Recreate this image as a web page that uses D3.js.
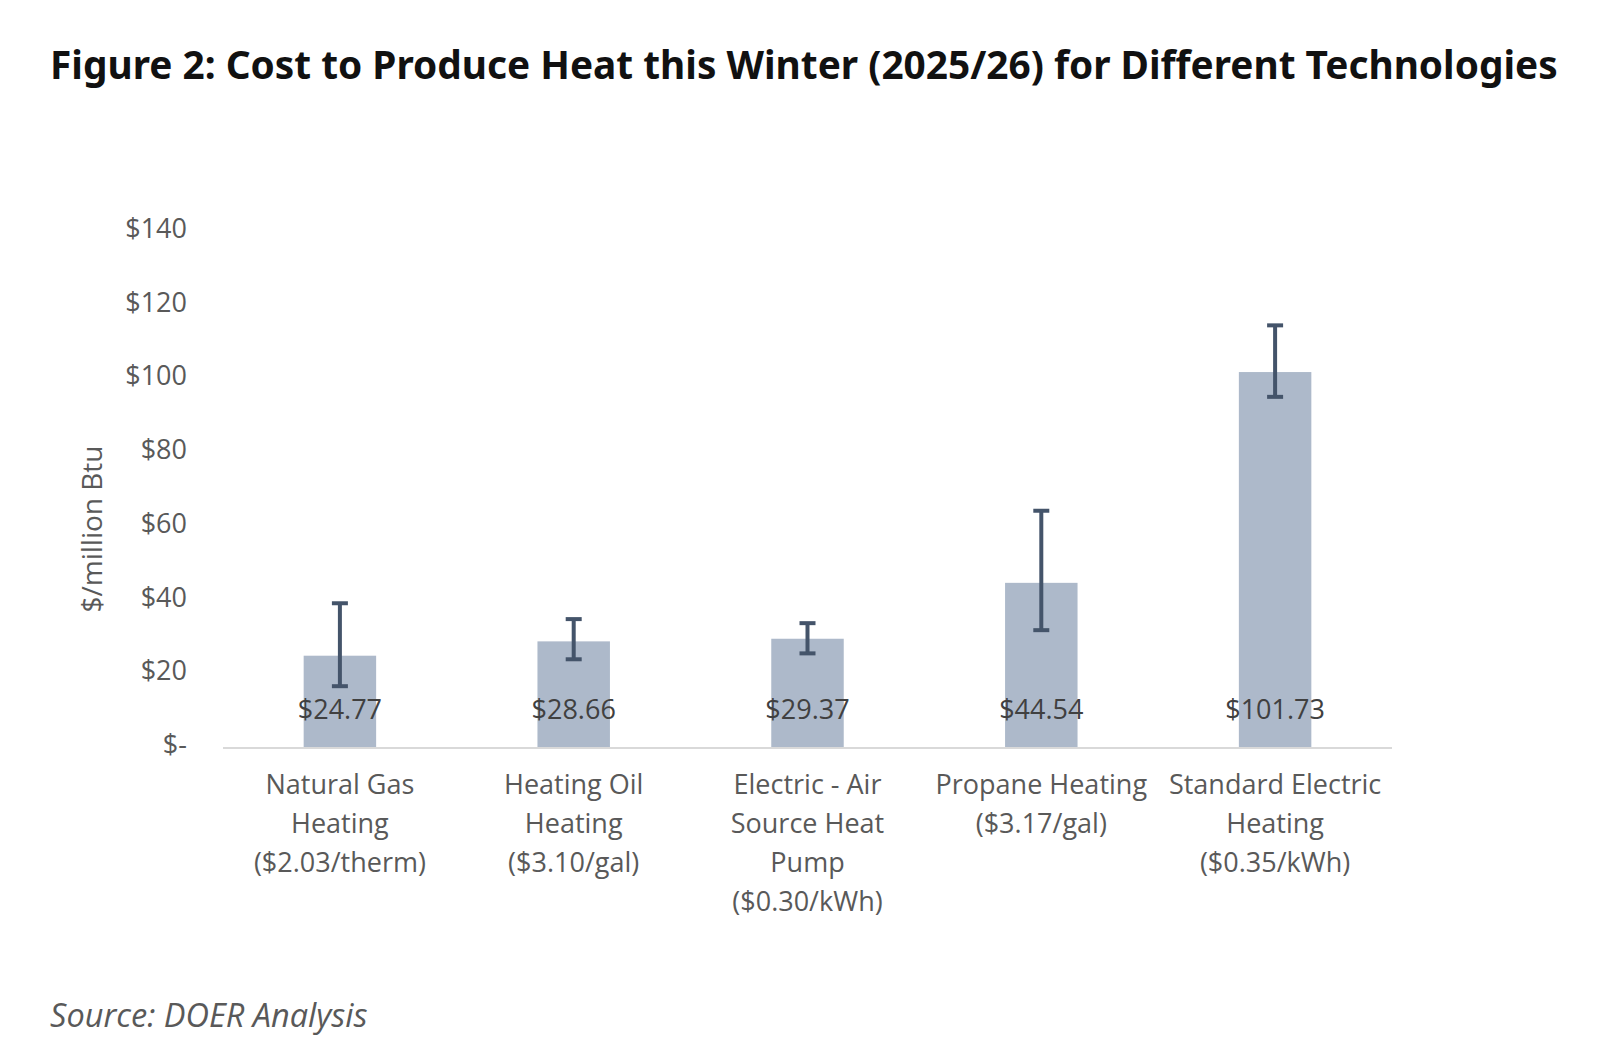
<!DOCTYPE html>
<html>
<head>
<meta charset="utf-8">
<script src="https://cdn.jsdelivr.net/npm/d3@7"></script>
<style>
  html, body { margin: 0; padding: 0; background: #fff; }
  svg { display: block; }
</style>
</head>
<body>
<div id="chart"></div>
<script>
// chart data
const categories = [
  ["Natural Gas", "Heating", "($2.03/therm)"],
  ["Heating Oil", "Heating", "($3.10/gal)"],
  ["Electric - Air", "Source Heat", "Pump", "($0.30/kWh)"],
  ["Propane Heating", "($3.17/gal)"],
  ["Standard Electric", "Heating", "($0.35/kWh)"]
];
const costs = [24.77, 28.66, 29.37, 44.54, 101.73];
const errLow = [16.5, 23.8, 25.4, 31.7, 95.0];
const errHigh = [39.0, 34.7, 33.6, 64.1, 114.4];
const yTicks = [0, 20, 40, 60, 80, 100, 120, 140];

const width = 1608, height = 1060;
const labelFont = "'Open Sans', 'Noto Sans', sans-serif";

let svg = d3.select("#chart")
  .append("svg")
  .attr("width", width)
  .attr("height", height);

// title
svg.append("text")
  .attr("x", 50)
  .attr("y", 79)
  .attr("font-family", "'Noto Sans', 'Open Sans', sans-serif")
  .attr("font-weight", "bold")
  .attr("font-size", 38.8)
  .attr("fill", "#111")
  .text("Figure 2: Cost to Produce Heat this Winter (2025/26) for Different Technologies");

let x = d3.scaleBand()
  .domain(d3.range(costs.length))
  .range([223, 1392])
  .paddingInner(0.69)
  .paddingOuter(0.345);

let y = d3.scaleLinear()
  .domain([0, 140])
  .range([747, 231]);

// y axis (labels only)
let yAxis = d3.axisLeft(y)
  .tickValues(yTicks)
  .tickSize(0)
  .tickPadding(0)
  .tickFormat((d) => (d === 0 ? "$-" : "$" + d));

let gy = svg.append("g")
  .attr("transform", "translate(187,-3)")
  .call(yAxis);
gy.select(".domain").remove();
gy.selectAll("text")
  .attr("font-family", labelFont)
  .attr("font-size", 27)
  .attr("fill", "#595959")
  .attr("dy", "0.35em");

// y axis title
svg.append("text")
  .attr("transform", "translate(92,529) rotate(-90)")
  .attr("text-anchor", "middle")
  .attr("dy", "0.35em")
  .attr("font-family", labelFont)
  .attr("font-size", 28)
  .attr("fill", "#595959")
  .text("$/million Btu");

// bars
svg.selectAll("rect.bar")
  .data(costs)
  .enter()
  .append("rect")
  .attr("class", "bar")
  .attr("x", (d, i) => x(i))
  .attr("width", x.bandwidth())
  .attr("y", (d) => y(d))
  .attr("height", (d) => y(0) - y(d))
  .attr("fill", "#adb9ca");

// baseline
svg.append("line")
  .attr("x1", 223)
  .attr("x2", 1392)
  .attr("y1", y(0) + 1)
  .attr("y2", y(0) + 1)
  .attr("stroke", "#d9d9d9")
  .attr("stroke-width", 2);

// error bars
let cap = 8;
let err = svg.selectAll("g.err")
  .data(costs)
  .enter()
  .append("g")
  .attr("class", "err")
  .attr("stroke", "#44546a")
  .attr("stroke-width", 4);

err.append("line")
  .attr("x1", (d, i) => x(i) + x.bandwidth() / 2)
  .attr("x2", (d, i) => x(i) + x.bandwidth() / 2)
  .attr("y1", (d, i) => y(errLow[i]))
  .attr("y2", (d, i) => y(errHigh[i]));

err.append("line")
  .attr("x1", (d, i) => x(i) + x.bandwidth() / 2 - cap)
  .attr("x2", (d, i) => x(i) + x.bandwidth() / 2 + cap)
  .attr("y1", (d, i) => y(errHigh[i]))
  .attr("y2", (d, i) => y(errHigh[i]));

err.append("line")
  .attr("x1", (d, i) => x(i) + x.bandwidth() / 2 - cap)
  .attr("x2", (d, i) => x(i) + x.bandwidth() / 2 + cap)
  .attr("y1", (d, i) => y(errLow[i]))
  .attr("y2", (d, i) => y(errLow[i]));

// data labels at inside base
svg.selectAll("text.val")
  .data(costs)
  .enter()
  .append("text")
  .attr("class", "val")
  .attr("x", (d, i) => x(i) + x.bandwidth() / 2)
  .attr("y", y(0) - 37)
  .attr("dy", "0.35em")
  .attr("text-anchor", "middle")
  .attr("font-family", labelFont)
  .attr("font-size", 27)
  .attr("fill", "#404040")
  .text((d) => "$" + d.toFixed(2));

// category labels
let cat = svg.selectAll("text.cat")
  .data(categories)
  .enter()
  .append("text")
  .attr("class", "cat")
  .attr("text-anchor", "middle")
  .attr("font-family", labelFont)
  .attr("font-size", 27)
  .attr("fill", "#595959");

cat.selectAll("tspan")
  .data((d, i) => d.map((t) => ({ t: t, i: i })))
  .enter()
  .append("tspan")
  .attr("x", (d) => x(d.i) + x.bandwidth() / 2)
  .attr("y", (d, j) => 785 + j * 39)
  .attr("dy", "0.35em")
  .text((d) => d.t);

// source note
svg.append("text")
  .attr("x", 50)
  .attr("y", 1016)
  .attr("dy", "0.35em")
  .attr("font-family", labelFont)
  .attr("font-style", "italic")
  .attr("font-size", 32.5)
  .attr("fill", "#595959")
  .text("Source: DOER Analysis");
</script>
</body>
</html>
